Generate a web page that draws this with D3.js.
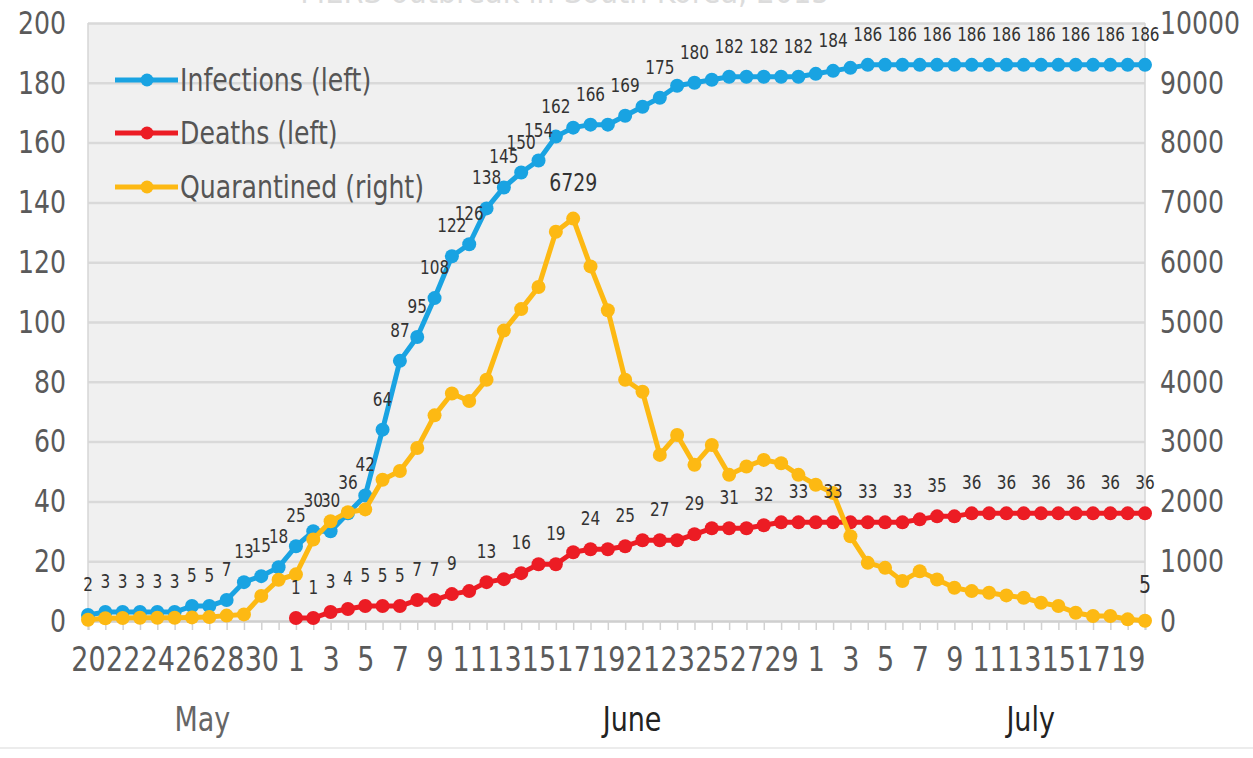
<!DOCTYPE html>
<html>
<head>
<meta charset="utf-8">
<script src="https://cdn.jsdelivr.net/npm/d3@7"></script>
<style>
  body { margin: 0; background: #fff; }
  svg text { font-family: "DejaVu Sans Condensed", "Liberation Sans Narrow", "DejaVu Sans", sans-serif; font-stretch: condensed; }
</style>
</head>
<body>
<svg id="chart" width="1253" height="758"></svg>
<script>
// day of month, May 20 .. July 20
const days = [20, 21, 22, 23, 24, 25, 26, 27, 28, 29, 30, 31,
  1, 2, 3, 4, 5, 6, 7, 8, 9, 10, 11, 12, 13, 14, 15, 16, 17, 18, 19, 20,
  21, 22, 23, 24, 25, 26, 27, 28, 29, 30,
  1, 2, 3, 4, 5, 6, 7, 8, 9, 10, 11, 12, 13, 14, 15, 16, 17, 18, 19, 20];
const monthNames = ["May", "June", "July"];

const infections = [2, 3, 3, 3, 3, 3, 5, 5, 7, 13, 15, 18,
  25, 30, 30, 36, 42, 64, 87, 95, 108, 122, 126, 138, 145, 150, 154, 162,
  165, 166, 166, 169, 172, 175, 179, 180, 181, 182, 182, 182, 182, 182, 183, 184, 185,
  186, 186, 186, 186, 186, 186, 186, 186, 186, 186, 186, 186, 186, 186, 186, 186, 186];

const deaths = [null, null, null, null, null, null, null, null, null, null, null, null,
  1, 1, 3, 4, 5, 5, 5, 7, 7, 9,
  10, 13, 14, 16, 19, 19,
  23, 24, 24, 25, 27, 27, 27, 29,
  31, 31, 31, 32, 33, 33, 33, 33, 33, 33, 33, 33, 34,
  35, 35,
  36, 36, 36, 36, 36, 36, 36, 36, 36, 36, 36];

const quarantined = [20, 45, 50, 55, 55, 55, 60, 65, 90, 110, 420, 690,
  780, 1364, 1667, 1820, 1866, 2361, 2508, 2892, 3439, 3805, 3680, 4035, 4856, 5216, 5586, 6508, 6729,
  5930, 5197, 4035, 3833,
  2778, 3111, 2611, 2944, 2444, 2583, 2694, 2639, 2444, 2278, 2139, 1417,
  972, 889, 667, 833, 694, 556, 500, 472, 428, 389, 306, 250, 139, 83, 83, 28, 5];

const leftTicks = [0, 20, 40, 60, 80, 100, 120, 140, 160, 180, 200];
const rightTicks = [0, 1000, 2000, 3000, 4000, 5000, 6000, 7000, 8000, 9000, 10000];
const seriesNames = ["Infections (left)", "Deaths (left)", "Quarantined (right)"];

const SY = 1.15; // the source picture is a bit stretched vertically
const plot = { left: 88, right: 1145, top: 23, bottom: 621 };
const colors = ["#19a3e2", "#ec1c24", "#fdb913"];

const svg = d3.select("#chart");
const idx = d3.range(days.length);

const x = d3.scaleLinear().domain([0, days.length - 1]).range([plot.left, plot.right]);
const yL = d3.scaleLinear().domain([0, 200]).range([plot.bottom, plot.top]);
const yR = d3.scaleLinear().domain([0, 10000]).range([plot.bottom, plot.top]);

// title, cut off by the top edge as in the source
svg.append("text")
  .attr("x", 565).attr("y", 3)
  .attr("text-anchor", "middle")
  .attr("font-size", 32)
  .attr("fill", "#dcdcdc")
  .text("MERS outbreak in South Korea, 2015");

// plot background
svg.append("rect")
  .attr("x", plot.left).attr("y", plot.top)
  .attr("width", plot.right - plot.left).attr("height", plot.bottom - plot.top)
  .attr("fill", "#f0f0f0");

// left axis + gridlines
const gL = svg.append("g")
  .attr("transform", `translate(${plot.left},0)`)
  .call(d3.axisLeft(yL).tickValues(leftTicks).tickSize(-(plot.right - plot.left)).tickPadding(22));
gL.select(".domain").remove();
gL.selectAll(".tick line").attr("stroke", "#d9d9d9").attr("stroke-width", 2.5);
gL.selectAll(".tick text")
  .attr("font-size", 28).attr("fill", "#5a5a5a")
  .attr("transform", `scale(1,${SY})`);

// right axis
const gR = svg.append("g")
  .attr("transform", `translate(${plot.right},0)`)
  .call(d3.axisRight(yR).tickValues(rightTicks).tickSize(0).tickPadding(15).tickFormat(d3.format("d")));
gR.select(".domain").remove();
gR.selectAll(".tick text")
  .attr("font-size", 28).attr("fill", "#5a5a5a")
  .attr("transform", `scale(1,${SY})`);

// plot side borders
svg.append("line")
  .attr("x1", plot.left).attr("x2", plot.left).attr("y1", plot.top).attr("y2", plot.bottom)
  .attr("stroke", "#d6d6d6").attr("stroke-width", 1.5);
svg.append("line")
  .attr("x1", plot.right).attr("x2", plot.right).attr("y1", plot.top).attr("y2", plot.bottom)
  .attr("stroke", "#d6d6d6").attr("stroke-width", 1.5);

// bottom day ticks
const gB = svg.append("g")
  .attr("transform", `translate(0,${plot.bottom})`)
  .call(d3.axisBottom(x).tickValues(idx).tickSize(9).tickFormat(""));
gB.select(".domain").attr("stroke", "#cfcfcf").attr("stroke-width", 2);
gB.selectAll(".tick line").attr("stroke", "#d2d2d2").attr("stroke-width", 1.5);

// bottom day labels, every other day
const gD = svg.append("g")
  .attr("transform", `translate(0,${plot.bottom})`)
  .call(d3.axisBottom(x)
    .tickValues(idx.filter(i => i % 2 === 0))
    .tickSize(0).tickPadding(22)
    .tickFormat(i => days[i]));
gD.select(".domain").remove();
gD.selectAll(".tick text")
  .attr("font-size", 30).attr("fill", "#5a5a5a")
  .attr("transform", `scale(1,${SY})`);

// month labels
const monthAt = [6.6, 31.4, 54.4];
const monthFill = ["#666666", "#222222", "#222222"];
svg.selectAll(".month")
  .data(monthNames)
  .join("text")
  .attr("class", "month")
  .attr("transform", (d, i) => `translate(${x(monthAt[i])},731) scale(1,${SY})`)
  .attr("text-anchor", "middle")
  .attr("font-size", 30)
  .attr("fill", (d, i) => monthFill[i])
  .text(d => d);

// series
const series = [
  { name: seriesNames[0], values: infections, y: yL, color: colors[0] },
  { name: seriesNames[1], values: deaths, y: yL, color: colors[1] },
  { name: seriesNames[2], values: quarantined, y: yR, color: colors[2] }
];

series.forEach(s => {
  const pts = idx.filter(i => s.values[i] != null);
  const line = d3.line()
    .x(i => x(i))
    .y(i => s.y(s.values[i]));
  svg.append("path")
    .datum(pts)
    .attr("d", line)
    .attr("fill", "none")
    .attr("stroke", s.color)
    .attr("stroke-width", 5)
    .attr("stroke-linejoin", "round");
  svg.append("g")
    .selectAll("circle")
    .data(pts)
    .join("circle")
    .attr("cx", i => x(i))
    .attr("cy", i => s.y(s.values[i]))
    .attr("r", 7)
    .attr("fill", s.color);
});

// data labels
const infLabelIdx = idx.filter(i => i <= 27 || i % 2 === 1);
const deathLabelIdx = idx.filter(i => (i >= 12 && i <= 21) || (i >= 23 && i % 2 === 1));
const quarLabelIdx = [28, 61];

function addLabels(list, values, yScale, size, lift) {
  svg.append("g")
    .selectAll("text")
    .data(list)
    .join("text")
    .attr("transform", i => `translate(${x(i)},${yScale(values[i]) - lift}) scale(1,${SY})`)
    .attr("text-anchor", "middle")
    .attr("font-size", size)
    .attr("fill", "#333333")
    .text(i => values[i]);
}
addLabels(infLabelIdx, infections, yL, 17, 24);
addLabels(deathLabelIdx, deaths, yL, 17, 24);
addLabels(quarLabelIdx, quarantined, yR, 21, 28);

// legend
const legend = svg.append("g");
const legY = [80, 133, 187];
series.forEach((s, i) => {
  const g = legend.append("g").attr("transform", `translate(0,${legY[i]})`);
  g.append("line")
    .attr("x1", 115).attr("x2", 178)
    .attr("stroke", s.color).attr("stroke-width", 5);
  g.append("circle").attr("cx", 147).attr("r", 6.5).attr("fill", s.color);
  g.append("text")
    .attr("transform", `translate(180,11) scale(1,${SY})`)
    .attr("font-size", 28)
    .attr("fill", "#555555")
    .text(s.name);
});

// faint bottom edge
svg.append("line")
  .attr("x1", 0).attr("x2", 1253).attr("y1", 748).attr("y2", 748)
  .attr("stroke", "#ececec").attr("stroke-width", 2);
</script>
</body>
</html>
